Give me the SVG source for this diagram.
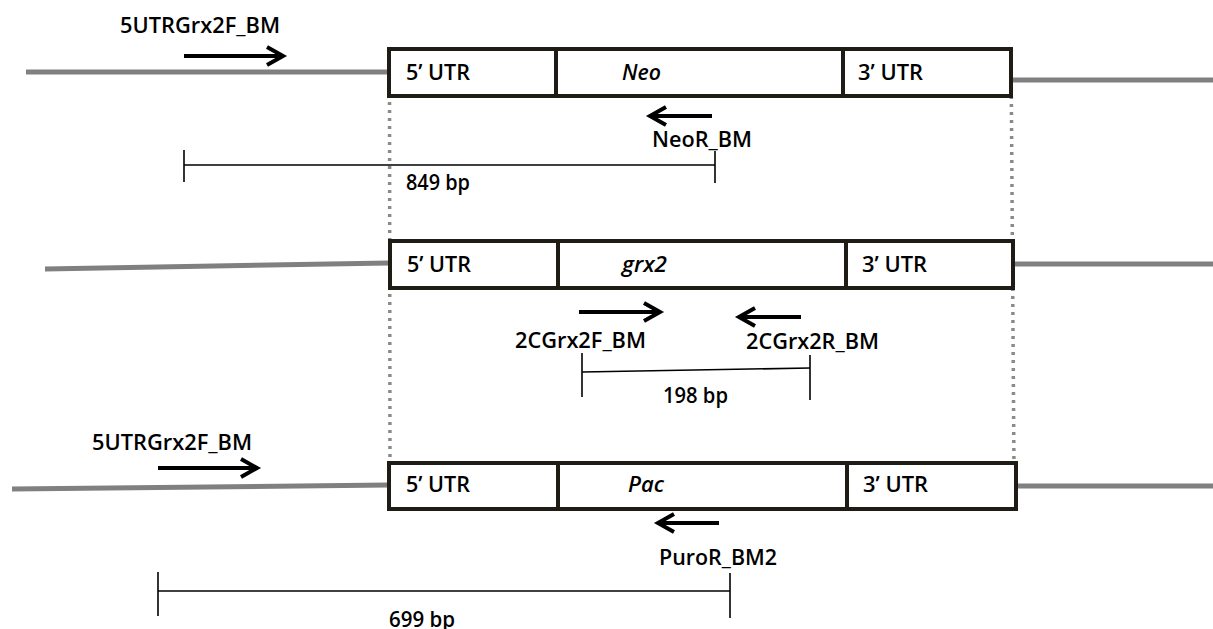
<svg xmlns="http://www.w3.org/2000/svg" width="1213" height="629" viewBox="0 0 1213 629">
<defs>
<style>
.box{fill:#fff;stroke:#1e1c14;stroke-width:4}
.div{stroke:#1e1c14;stroke-width:4}
.t{font-family:"Open Sans","Liberation Sans",sans-serif;font-size:21.5px;font-weight:600;fill:#000}
.i{font-style:italic}
.dna{stroke:#808080;stroke-width:5;fill:none}
.dot{stroke:#8a8a8a;stroke-width:3.5;stroke-dasharray:3 5;fill:none}
.arr{stroke:#000;stroke-width:4;fill:none;marker-end:url(#head)}
.bar{stroke:#000;stroke-width:1.6;fill:none}
</style>
<marker id="head" markerUnits="userSpaceOnUse" markerWidth="24" markerHeight="24" refX="19" refY="12" orient="auto">
<path d="M3,3 L19,12 L3,21" fill="none" stroke="#000" stroke-width="4"/>
</marker>
</defs>
<rect width="1213" height="629" fill="#fff"/>
<g id="connectors">
<line class="dna" x1="26" y1="72" x2="389" y2="72"/>
<line class="dna" x1="1012" y1="80" x2="1213" y2="80"/>
<path class="dna" d="M45,269 L389,263"/>
<line class="dna" x1="1014" y1="264" x2="1213" y2="264"/>
<path class="dna" d="M12,489 L389,485"/>
<line class="dna" x1="1016" y1="486" x2="1213" y2="486"/>
<line class="dot" x1="389.5" y1="70" x2="390" y2="490"/>
<line class="dot" x1="1011" y1="48" x2="1014" y2="470"/>
<line class="arr" x1="184" y1="56" x2="283" y2="56"/>
<line class="arr" x1="712" y1="116" x2="650" y2="116"/>
<line class="arr" x1="579" y1="312" x2="660" y2="312"/>
<line class="arr" x1="801" y1="317" x2="739" y2="317"/>
<line class="arr" x1="158" y1="468" x2="257" y2="468"/>
<line class="arr" x1="719" y1="523" x2="658" y2="523"/>
<line class="bar" x1="184" y1="165" x2="715" y2="165"/>
<line class="bar" x1="184" y1="150" x2="184" y2="182"/>
<line class="bar" x1="715" y1="151" x2="715" y2="183"/>
<line class="bar" x1="582" y1="372" x2="810" y2="368"/>
<line class="bar" x1="582" y1="353" x2="582" y2="397"/>
<line class="bar" x1="810" y1="355" x2="810" y2="400"/>
<line class="bar" x1="158" y1="591" x2="730" y2="591"/>
<line class="bar" x1="158" y1="572" x2="158" y2="616"/>
<line class="bar" x1="730" y1="573" x2="730" y2="618"/>
</g>
<g id="box-neo">
<rect class="box" x="389" y="49" width="622" height="47"/>
<line class="div" x1="556" y1="49" x2="556" y2="96"/>
<line class="div" x1="843" y1="49" x2="843" y2="96"/>
<text class="t" x="406" y="80" textLength="64" lengthAdjust="spacingAndGlyphs">5’ UTR</text>
<text class="t i" x="622" y="80" textLength="39" lengthAdjust="spacingAndGlyphs">Neo</text>
<text class="t" x="858" y="80" textLength="65" lengthAdjust="spacingAndGlyphs">3’ UTR</text>
</g>
<g id="box-grx2">
<rect class="box" x="390" y="241" width="623" height="47"/>
<line class="div" x1="558" y1="241" x2="558" y2="288"/>
<line class="div" x1="846" y1="241" x2="846" y2="288"/>
<text class="t" x="407" y="272" textLength="64" lengthAdjust="spacingAndGlyphs">5’ UTR</text>
<text class="t i" x="622" y="272" textLength="45" lengthAdjust="spacingAndGlyphs">grx2</text>
<text class="t" x="862" y="272" textLength="65" lengthAdjust="spacingAndGlyphs">3’ UTR</text>
</g>
<g id="box-pac">
<rect class="box" x="389" y="463" width="627" height="46"/>
<line class="div" x1="558" y1="463" x2="558" y2="509"/>
<line class="div" x1="847" y1="463" x2="847" y2="509"/>
<text class="t" x="406" y="492" textLength="64" lengthAdjust="spacingAndGlyphs">5’ UTR</text>
<text class="t i" x="628" y="492" textLength="36" lengthAdjust="spacingAndGlyphs">Pac</text>
<text class="t" x="863" y="492" textLength="65" lengthAdjust="spacingAndGlyphs">3’ UTR</text>
</g>
<g id="labels">
<text class="t" x="120" y="33" textLength="160" lengthAdjust="spacingAndGlyphs">5UTRGrx2F_BM</text>
<text class="t" x="652" y="147" textLength="100" lengthAdjust="spacingAndGlyphs">NeoR_BM</text>
<text class="t" x="406" y="190" textLength="64" lengthAdjust="spacingAndGlyphs">849 bp</text>
<text class="t" x="515" y="348" textLength="131" lengthAdjust="spacingAndGlyphs">2CGrx2F_BM</text>
<text class="t" x="746" y="349" textLength="133" lengthAdjust="spacingAndGlyphs">2CGrx2R_BM</text>
<text class="t" x="663" y="403" textLength="65" lengthAdjust="spacingAndGlyphs">198 bp</text>
<text class="t" x="92" y="450" textLength="160" lengthAdjust="spacingAndGlyphs">5UTRGrx2F_BM</text>
<text class="t" x="659" y="565" textLength="118" lengthAdjust="spacingAndGlyphs">PuroR_BM2</text>
<text class="t" x="389" y="627" textLength="66" lengthAdjust="spacingAndGlyphs">699 bp</text>
</g>
</svg>
